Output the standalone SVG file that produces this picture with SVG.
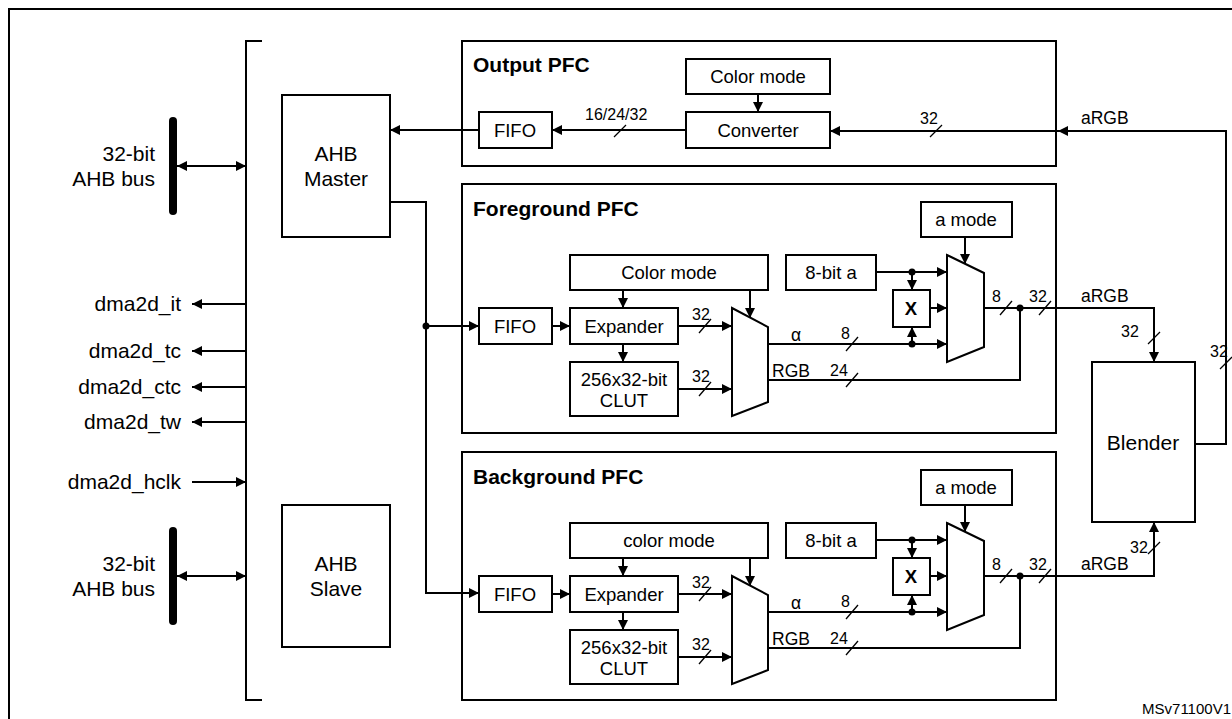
<svg xmlns="http://www.w3.org/2000/svg" width="1232" height="719" viewBox="0 0 1232 719">
<defs>
<marker id="ah" viewBox="0 0 10 10" refX="10" refY="5" markerWidth="10" markerHeight="10" markerUnits="userSpaceOnUse" orient="auto-start-reverse"><path d="M0,0 L10,5 L0,10 z" fill="#000"/></marker>
</defs>
<style>
.b{fill:#fff;stroke:#000;stroke-width:2}
.f{fill:none;stroke:#000;stroke-width:2}
.l{fill:none;stroke:#000;stroke-width:2}
.a{marker-end:url(#ah)}
.s{stroke:#000;stroke-width:1.3}
text{font-family:"Liberation Sans",Arial,sans-serif;fill:#000}
.t{font-size:18.5px;text-anchor:middle}
.tl{font-size:21px;text-anchor:middle}
.h{font-size:21px;font-weight:bold}
.n{font-size:16px}
.g{font-size:21px;text-anchor:end}
.r{font-size:17.5px}
</style>
<rect x="9" y="9" width="1240" height="720" class="f"/>
<path d="M262,41 H246 V700 H262" class="f" stroke-width="1.5"/>
<text x="1231" y="714" font-size="15" text-anchor="end">MSv71100V1</text>

<g id="busTop"><line x1="173" y1="121" x2="173" y2="211" stroke="#000" stroke-width="8" stroke-linecap="round"/>
<text x="155" y="161" class="g">32-bit</text><text x="155" y="186" class="g">AHB bus</text></g>
<g id="busBot"><line x1="173" y1="531" x2="173" y2="621" stroke="#000" stroke-width="8" stroke-linecap="round"/>
<text x="155" y="571" class="g">32-bit</text><text x="155" y="596" class="g">AHB bus</text></g>
<g id="sigs">
<text x="181" y="311" class="g">dma2d_it</text>
<text x="181" y="358" class="g">dma2d_tc</text>
<text x="181" y="394" class="g">dma2d_ctc</text>
<text x="181" y="429" class="g">dma2d_tw</text>
<text x="181" y="489" class="g">dma2d_hclk</text>
</g>
<g id="master"><rect x="282" y="95" width="108" height="142" class="b"/><text x="336" y="161" class="tl">AHB</text><text x="336" y="186" class="tl">Master</text></g>
<g id="slave"><rect x="282" y="505" width="108" height="142" class="b"/><text x="336" y="571" class="tl">AHB</text><text x="336" y="596" class="tl">Slave</text></g>

<g id="outPFC"><rect x="462" y="41" width="594" height="125" class="b"/><text x="473" y="72" class="h">Output PFC</text></g>
<g id="outColor"><rect x="686" y="59" width="144" height="35" class="b"/><text x="758" y="83" class="t">Color mode</text></g>
<g id="converter"><rect x="686" y="112" width="144" height="36" class="b"/><text x="758" y="137" class="t">Converter</text></g>
<g id="outFifo"><rect x="479" y="112" width="73" height="36" class="b"/><text x="515" y="137" class="t">FIFO</text></g>

<g id="fgPFC"><rect x="462" y="184" width="594" height="249" class="b"/><text x="473" y="216" class="h">Foreground PFC</text></g>
<g id="bgPFC"><rect x="462" y="452" width="594" height="248" class="b"/><text x="473" y="484" class="h">Background PFC</text></g>

<g id="fgBlocks">
<rect x="570" y="255" width="198" height="35" class="b"/><text x="669" y="279" class="t">Color mode</text>
<rect x="479" y="308" width="73" height="36" class="b"/><text x="515" y="333" class="t">FIFO</text>
<rect x="570" y="308" width="108" height="36" class="b"/><text x="624" y="333" class="t">Expander</text>
<rect x="570" y="362" width="108" height="54" class="b"/><text x="624" y="386" class="t">256x32-bit</text><text x="624" y="407" class="t">CLUT</text>
<path d="M732,308 L768,327 V402 L732,416 Z" class="b"/>
<rect x="786" y="255" width="90" height="35" class="b"/><text x="831" y="279" class="t">8-bit a</text>
<rect x="893" y="290" width="37" height="37" class="b"/><text x="911" y="315" class="t" font-weight="bold">X</text>
<path d="M947,255 L984,273 V347 L947,362 Z" class="b"/>
<rect x="921" y="202" width="91" height="35" class="b"/><text x="966" y="226" class="t">a mode</text>
</g>
<g id="bgBlocks" transform="translate(0,268)">
<rect x="570" y="255" width="198" height="35" class="b"/><text x="669" y="279" class="t">color mode</text>
<rect x="479" y="308" width="73" height="36" class="b"/><text x="515" y="333" class="t">FIFO</text>
<rect x="570" y="308" width="108" height="36" class="b"/><text x="624" y="333" class="t">Expander</text>
<rect x="570" y="362" width="108" height="54" class="b"/><text x="624" y="386" class="t">256x32-bit</text><text x="624" y="407" class="t">CLUT</text>
<path d="M732,308 L768,327 V402 L732,416 Z" class="b"/>
<rect x="786" y="255" width="90" height="35" class="b"/><text x="831" y="279" class="t">8-bit a</text>
<rect x="893" y="290" width="37" height="37" class="b"/><text x="911" y="315" class="t" font-weight="bold">X</text>
<path d="M947,255 L984,273 V347 L947,362 Z" class="b"/>
<rect x="921" y="202" width="91" height="35" class="b"/><text x="966" y="226" class="t">a mode</text>
</g>
<g id="blender"><rect x="1092" y="362" width="103" height="160" class="b"/><text x="1143" y="450" class="tl">Blender</text></g>

<g id="connectors">
<line x1="177" y1="166" x2="246" y2="166" class="l a" marker-start="url(#ah)"/>
<line x1="177" y1="576" x2="246" y2="576" class="l a" marker-start="url(#ah)"/>
<line x1="246" y1="304" x2="192" y2="304" class="l a"/>
<line x1="246" y1="351" x2="192" y2="351" class="l a"/>
<line x1="246" y1="387" x2="192" y2="387" class="l a"/>
<line x1="246" y1="422" x2="192" y2="422" class="l a"/>
<line x1="192" y1="482" x2="246" y2="482" class="l a"/>
<line x1="479" y1="130" x2="390" y2="130" class="l a"/>
<line x1="686" y1="130" x2="552" y2="130" class="l a"/>
<line x1="758" y1="94" x2="758" y2="112" class="l a"/>
<path d="M1195,444 H1226 V131 H1058" class="l a"/>
<line x1="1058" y1="131" x2="830" y2="131" class="l a"/>
<path d="M390,202 H426 V593 H479" class="l a"/>
<line x1="426" y1="326" x2="479" y2="326" class="l a"/>
<circle cx="426" cy="326" r="3.5"/>
<g id="fgWires">
<line x1="552" y1="326" x2="570" y2="326" class="l a"/>
<line x1="623" y1="290" x2="623" y2="308" class="l a"/>
<line x1="623" y1="344" x2="623" y2="362" class="l a"/>
<line x1="678" y1="326" x2="732" y2="326" class="l a"/>
<line x1="678" y1="389" x2="732" y2="389" class="l a"/>
<line x1="750" y1="290" x2="750" y2="318" class="l a"/>
<line x1="768" y1="344" x2="947" y2="344" class="l a"/>
<path d="M768,380 H1020 V308" class="l"/>
<line x1="876" y1="272" x2="947" y2="272" class="l a"/>
<line x1="912" y1="272" x2="912" y2="290" class="l a"/>
<line x1="912" y1="344" x2="912" y2="327" class="l a"/>
<line x1="930" y1="308" x2="947" y2="308" class="l a"/>
<line x1="965" y1="237" x2="965" y2="264" class="l a"/>
<circle cx="912" cy="272" r="3.5"/><circle cx="912" cy="344" r="3.5"/><circle cx="1020" cy="308" r="3.5"/>
<line x1="699" y1="333" x2="711" y2="319" class="s"/><text x="692" y="320" class="n">32</text>
<line x1="699" y1="396" x2="711" y2="382" class="s"/><text x="692" y="382" class="n">32</text>
<line x1="846" y1="351" x2="858" y2="337" class="s"/><text x="841" y="339" class="n">8</text>
<text x="791" y="341" class="r">α</text>
<line x1="846" y1="387" x2="858" y2="373" class="s"/><text x="830" y="376" class="n">24</text>
<text x="772" y="377" class="r">RGB</text>
<line x1="1000" y1="315" x2="1012" y2="301" class="s"/><text x="992" y="302" class="n">8</text>
<line x1="1039" y1="315" x2="1051" y2="301" class="s"/><text x="1029" y="302" class="n">32</text>
</g>
<g id="bgWires" transform="translate(0,268)">
<line x1="552" y1="326" x2="570" y2="326" class="l a"/>
<line x1="623" y1="290" x2="623" y2="308" class="l a"/>
<line x1="623" y1="344" x2="623" y2="362" class="l a"/>
<line x1="678" y1="326" x2="732" y2="326" class="l a"/>
<line x1="678" y1="389" x2="732" y2="389" class="l a"/>
<line x1="750" y1="290" x2="750" y2="318" class="l a"/>
<line x1="768" y1="344" x2="947" y2="344" class="l a"/>
<path d="M768,380 H1020 V308" class="l"/>
<line x1="876" y1="272" x2="947" y2="272" class="l a"/>
<line x1="912" y1="272" x2="912" y2="290" class="l a"/>
<line x1="912" y1="344" x2="912" y2="327" class="l a"/>
<line x1="930" y1="308" x2="947" y2="308" class="l a"/>
<line x1="965" y1="237" x2="965" y2="264" class="l a"/>
<circle cx="912" cy="272" r="3.5"/><circle cx="912" cy="344" r="3.5"/><circle cx="1020" cy="308" r="3.5"/>
<line x1="699" y1="333" x2="711" y2="319" class="s"/><text x="692" y="320" class="n">32</text>
<line x1="699" y1="396" x2="711" y2="382" class="s"/><text x="692" y="382" class="n">32</text>
<line x1="846" y1="351" x2="858" y2="337" class="s"/><text x="841" y="339" class="n">8</text>
<text x="791" y="341" class="r">α</text>
<line x1="846" y1="387" x2="858" y2="373" class="s"/><text x="830" y="376" class="n">24</text>
<text x="772" y="377" class="r">RGB</text>
<line x1="1000" y1="315" x2="1012" y2="301" class="s"/><text x="992" y="302" class="n">8</text>
<line x1="1039" y1="315" x2="1051" y2="301" class="s"/><text x="1029" y="302" class="n">32</text>
</g>
<path d="M984,308 H1154 V362" class="l a"/>
<path d="M984,576 H1154 V522" class="l a"/>
<text x="1081" y="302" class="r">aRGB</text>
<text x="1081" y="570" class="r">aRGB</text>
<line x1="1148" y1="344" x2="1160" y2="332" class="s"/><text x="1121" y="337" class="n">32</text>
<line x1="1148" y1="554" x2="1160" y2="542" class="s"/><text x="1130" y="553" class="n">32</text>
<line x1="1220" y1="369" x2="1232" y2="357" class="s"/><text x="1210" y="357" class="n">32</text>
<line x1="614" y1="137" x2="626" y2="125" class="s"/><text x="585" y="120" class="n">16/24/32</text>
<line x1="930" y1="137" x2="942" y2="125" class="s"/><text x="920" y="124" class="n">32</text>
<text x="1081" y="124" class="r">aRGB</text>
</g>
</svg>
